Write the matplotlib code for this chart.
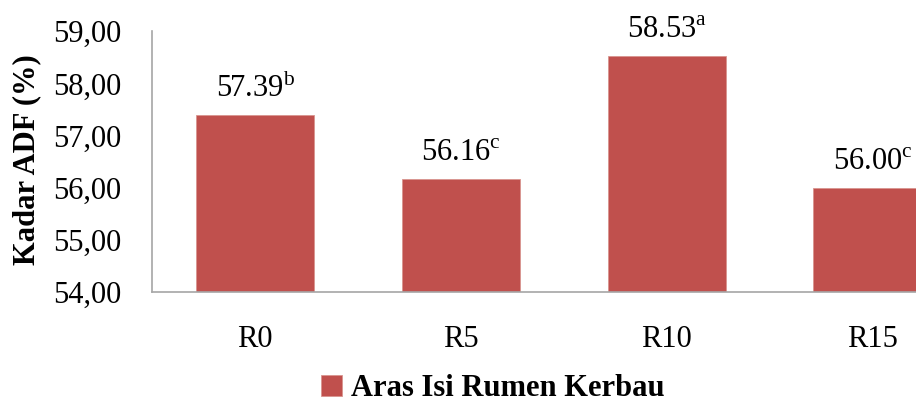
import numpy as np
import matplotlib
matplotlib.use("Agg")
import matplotlib.pyplot as plt
from matplotlib.ticker import FuncFormatter

# --- datos ---
perlakuan = ["R0", "R5", "R10", "R15"]
kadar_adf = [57.39, 56.16, 58.53, 56.00]
notasi = ["b", "c", "a", "c"]
yticks = [54, 55, 56, 57, 58, 59]

plt.rcParams["font.family"] = ["Liberation Serif", "DejaVu Serif"]
plt.rcParams["mathtext.fontset"] = "custom"
plt.rcParams["mathtext.rm"] = "Liberation Serif"

warna = "#C0504D"
abu = "#A6A6A6"

fig = plt.figure(figsize=(9.16, 4.05), dpi=100)
# el área de trazado se sale por la derecha, como en la original
ax = fig.add_axes([0.166, 0.279, 0.899, 0.644])

x = np.arange(len(perlakuan))
bars = ax.bar(x, kadar_adf, width=0.575, color=warna, edgecolor="#D9958F", linewidth=0.6, label="Aras Isi Rumen Kerbau")

ax.set_xlim(-0.5, len(perlakuan) - 0.5)
ax.set_ylim(54, 59)
ax.set_yticks(yticks)
ax.yaxis.set_major_formatter(FuncFormatter(lambda v, p: f"{v:.2f}".replace(".", ",")))
ax.set_xticks(x)
ax.set_xticklabels(perlakuan)
ax.tick_params(axis="both", length=0, labelsize=22, colors="black")
ax.tick_params(axis="x", pad=24)
ax.tick_params(axis="y", pad=22)

for s in ["top", "right"]:
    ax.spines[s].set_visible(False)
for s in ["left", "bottom"]:
    ax.spines[s].set_color(abu)
    ax.spines[s].set_linewidth(1.2)

# etiquetas con letra de notación en superíndice
for xi, v, n in zip(x, kadar_adf, notasi):
    ax.annotate(f"{v:.2f}" + r"$^{\mathrm{" + n + "}}$", (xi, v), xytext=(0, 8),
                textcoords="offset points", ha="center", va="bottom", fontsize=22)

fig.text(27 / 916, 0.605, "Kadar ADF (%)", rotation=90, ha="center", va="center",
         fontsize=22, fontweight="bold")

fig.legend(handles=[bars], labels=["Aras Isi Rumen Kerbau"], loc="center",
           bbox_to_anchor=(0.538, 0.04), frameon=False, handlelength=0.7, handleheight=0.7,
           handletextpad=0.3, prop={"size": 22, "weight": "bold"})

fig.savefig("out.png", dpi=100)
